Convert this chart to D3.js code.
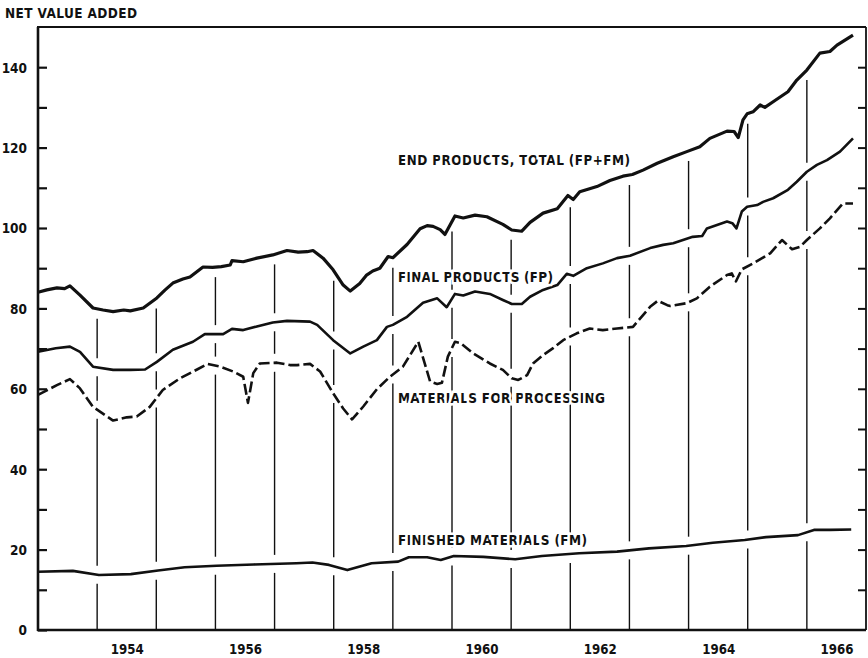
<!DOCTYPE html>
<html><head><meta charset="utf-8">
<script src="https://cdn.jsdelivr.net/npm/d3@7"></script>
<style>
html,body{margin:0;padding:0;background:#fff;}
svg{display:block;}
text{font-family:"DejaVu Sans Condensed","Liberation Sans Narrow","Roboto Condensed",sans-serif;font-weight:bold;fill:#111;}
</style></head><body><svg id="c" width="868" height="658"></svg>
<script>
// ---- DATA ----
const epYears=[1953.00,1953.15,1953.32,1953.45,1953.54,1953.71,1953.93,1954.10,1954.27,1954.45,1954.56,1954.78,1955.01,1955.15,1955.28,1955.45,1955.57,1955.79,1955.95,1956.10,1956.25,1956.28,1956.47,1956.70,1956.97,1957.21,1957.40,1957.55,1957.65,1957.82,1957.99,1958.16,1958.28,1958.44,1958.55,1958.66,1958.78,1958.92,1959.00,1959.24,1959.46,1959.58,1959.68,1959.80,1959.88,1960.05,1960.19,1960.39,1960.59,1960.86,1961.01,1961.18,1961.32,1961.54,1961.78,1961.96,1962.05,1962.16,1962.45,1962.67,1962.89,1963.05,1963.23,1963.47,1963.74,1963.97,1964.19,1964.36,1964.65,1964.77,1964.84,1964.92,1964.99,1965.09,1965.21,1965.29,1965.43,1965.68,1965.83,1966.00,1966.22,1966.39,1966.51,1966.78];
const epValues=[84.0,84.6,85.1,84.9,85.6,83.3,80.1,79.6,79.2,79.6,79.4,80.1,82.6,84.6,86.3,87.3,87.8,90.3,90.2,90.4,90.8,91.9,91.6,92.5,93.3,94.4,94.0,94.1,94.4,92.5,89.6,85.8,84.3,86.2,88.2,89.3,90.0,92.9,92.6,95.9,99.8,100.6,100.4,99.6,98.4,103.0,102.5,103.2,102.8,100.9,99.5,99.2,101.4,103.7,104.8,108.1,107.1,109.0,110.3,111.8,112.9,113.3,114.4,116.1,117.7,119.0,120.2,122.3,124.1,124.0,122.5,126.9,128.4,128.9,130.6,130.0,131.4,133.9,136.8,139.3,143.5,143.9,145.5,148.0];

const fpYears=[1953.00,1953.30,1953.54,1953.71,1953.93,1954.27,1954.56,1954.81,1955.01,1955.28,1955.62,1955.82,1956.13,1956.28,1956.47,1956.70,1956.97,1957.21,1957.60,1957.72,1957.99,1958.28,1958.50,1958.73,1958.90,1959.00,1959.24,1959.51,1959.75,1959.91,1960.05,1960.19,1960.39,1960.64,1960.86,1961.01,1961.18,1961.32,1961.54,1961.78,1961.94,1962.05,1962.28,1962.55,1962.79,1963.01,1963.35,1963.57,1963.74,1964.07,1964.23,1964.31,1964.65,1964.74,1964.81,1964.90,1964.99,1965.16,1965.26,1965.43,1965.68,1965.83,1966.00,1966.17,1966.34,1966.56,1966.78];
const fpValues=[69.2,70.1,70.5,69.2,65.5,64.7,64.7,64.8,66.7,69.7,71.7,73.6,73.6,74.9,74.6,75.5,76.5,76.9,76.7,75.9,72.1,68.8,70.5,72.1,75.4,75.9,77.9,81.4,82.5,80.3,83.6,83.2,84.2,83.6,82.1,81.1,81.1,82.9,84.6,85.8,88.6,88.1,90.0,91.2,92.5,93.1,95.0,95.8,96.2,97.8,98.0,99.9,101.6,101.2,99.9,104.1,105.3,105.7,106.5,107.4,109.5,111.5,114.0,115.7,116.9,119.0,122.3];

const mpYears=[1953.00,1953.32,1953.54,1953.71,1953.93,1954.27,1954.50,1954.67,1954.89,1955.11,1955.40,1955.69,1955.87,1956.08,1956.30,1956.47,1956.55,1956.64,1956.75,1957.04,1957.26,1957.38,1957.60,1957.77,1957.99,1958.16,1958.31,1958.50,1958.73,1958.95,1959.17,1959.43,1959.63,1959.75,1959.83,1959.93,1960.05,1960.14,1960.36,1960.64,1960.86,1961.01,1961.12,1961.27,1961.37,1961.54,1961.71,1961.88,1962.11,1962.33,1962.55,1962.79,1963.06,1963.35,1963.48,1963.64,1963.69,1963.97,1964.14,1964.36,1964.65,1964.73,1964.80,1964.90,1965.09,1965.38,1965.58,1965.75,1965.88,1966.00,1966.22,1966.39,1966.61,1966.78];
const mpValues=[58.5,60.9,62.4,60.1,55.5,52.1,52.9,53.1,55.5,59.7,62.6,64.8,66.2,65.5,64.3,63.0,56.5,63.9,66.3,66.5,65.9,65.9,66.2,64.3,58.9,55.1,52.4,55.6,59.9,63.0,65.5,71.7,61.8,61.2,61.5,68.0,71.7,71.4,68.8,66.3,64.7,62.6,62.2,63.4,66.3,68.4,70.1,72.1,73.8,75.0,74.6,75.0,75.4,80.4,81.9,80.8,80.6,81.3,82.5,85.4,88.3,88.7,86.7,89.7,91.2,93.7,97.0,94.7,95.3,97.0,99.9,102.4,106.1,106.1];

const fmYears=[1953.00,1953.59,1954.03,1954.57,1955.03,1955.48,1956.02,1956.65,1957.37,1957.64,1957.92,1958.23,1958.64,1959.09,1959.27,1959.58,1959.81,1960.03,1960.53,1961.07,1961.52,1962.15,1962.79,1963.33,1963.96,1964.41,1964.95,1965.31,1965.85,1966.12,1966.39,1966.75];
const fmValues=[14.5,14.7,13.7,13.9,14.8,15.6,16.0,16.3,16.6,16.8,16.2,14.9,16.6,17.0,18.1,18.1,17.4,18.4,18.2,17.6,18.4,19.1,19.5,20.3,20.9,21.7,22.4,23.1,23.6,24.9,24.9,25.0];

const yearLabels=[1954,1956,1958,1960,1962,1964,1966];
const dropYears=[1954,1955,1956,1957,1958,1959,1960,1961,1962,1963,1964,1965,1966];
const yTickValues=[0,10,20,30,40,50,60,70,80,90,100,110,120,130,140];
const yLabelValues=[0,20,40,60,80,100,120,140];

// ---- CHART ----
const svg=d3.select("#c");
const L=38,R=866,T=27,B=630;
const x=d3.scaleLinear().domain([1953,1967]).range([L,R]);
const y=d3.scaleLinear().domain([0,150]).range([B,T]);
const ink="#111";

function interp(xs,vs,t){
  const i=d3.bisectLeft(xs,t);
  if(i<=0) return vs[0];
  if(i>=xs.length) return vs[vs.length-1];
  const t0=xs[i-1],t1=xs[i];
  return vs[i-1]+(vs[i]-vs[i-1])*(t-t0)/(t1-t0);
}

// drop lines
const dropG=svg.append("g");
dropYears.forEach(yr=>{
  const px=x(yr);
  const top=y(interp(epYears,epValues,yr))+10;
  const cuts=[[fpYears,fpValues],[mpYears,mpValues],[fmYears,fmValues]].map(([a,b])=>y(interp(a,b,yr))).sort((a,b)=>a-b);
  let start=top;
  cuts.forEach(c=>{
    const e=c-9;
    if(e>start) dropG.append("line").attr("x1",px).attr("x2",px).attr("y1",start).attr("y2",e).attr("stroke",ink).attr("stroke-width",1.4);
    start=Math.max(start,c+9);
  });
  dropG.append("line").attr("x1",px).attr("x2",px).attr("y1",start).attr("y2",B).attr("stroke",ink).attr("stroke-width",1.4);
});

// series
const line=d3.line().x(d=>x(d[0])).y(d=>y(d[1])).curve(d3.curveLinear);
function drawSeries(xs,vs,w,dash){
  const p=svg.append("path").datum(d3.zip(xs,vs)).attr("d",line)
    .attr("fill","none").attr("stroke",ink).attr("stroke-width",w)
    .attr("stroke-linejoin","round").attr("stroke-linecap","butt");
  if(dash) p.attr("stroke-dasharray",dash);
}
drawSeries(epYears,epValues,3.2);
drawSeries(fpYears,fpValues,2.6);
drawSeries(mpYears,mpValues,2.6,"11,4");
drawSeries(fmYears,fmValues,2.6);

// axes
const yAxisL=d3.axisLeft(y).tickValues(yTickValues).tickSize(-9).tickPadding(11)
  .tickFormat(d=>yLabelValues.includes(d)?d:"");
const gL=svg.append("g").attr("transform",`translate(${L},0)`).call(yAxisL);
gL.select(".domain").remove();
gL.selectAll("line").attr("stroke",ink).attr("stroke-width",2.2);
gL.selectAll("text").attr("font-size","13.5px").attr("fill",ink).attr("dy","0.36em")
  .style("font-family",'"DejaVu Sans Condensed","Liberation Sans Narrow",sans-serif').style("font-weight","bold");

const yAxisR=d3.axisRight(y).tickValues(yTickValues.filter(v=>v>0)).tickSize(-8).tickFormat("");
const gR=svg.append("g").attr("transform",`translate(${R},0)`).call(yAxisR);
gR.select(".domain").remove();
gR.selectAll("line").attr("stroke",ink).attr("stroke-width",2);

const xAxis=d3.axisBottom(x).tickValues(yearLabels.map(v=>v+0.5)).tickSize(0).tickFormat(d=>String(Math.floor(d)));
const gB=svg.append("g").attr("transform",`translate(0,${B})`).call(xAxis);
gB.select(".domain").remove();
gB.selectAll("text").attr("dy",null).attr("y",24).attr("font-size","13.5px").attr("fill",ink)
  .attr("textLength",33).attr("lengthAdjust","spacingAndGlyphs")
  .style("font-family",'"DejaVu Sans Condensed","Liberation Sans Narrow",sans-serif').style("font-weight","bold");

// frame
svg.append("line").attr("x1",L).attr("x2",L).attr("y1",T).attr("y2",B+1).attr("stroke",ink).attr("stroke-width",2.6);
svg.append("line").attr("x1",L-1).attr("x2",R).attr("y1",B).attr("y2",B).attr("stroke",ink).attr("stroke-width",2.6);
svg.append("line").attr("x1",L-1).attr("x2",R).attr("y1",T).attr("y2",T).attr("stroke",ink).attr("stroke-width",2);
svg.append("line").attr("x1",R).attr("x2",R).attr("y1",T).attr("y2",B).attr("stroke",ink).attr("stroke-width",1.8);

// texts
function label(txt,px,py,len){
  svg.append("text").attr("x",px).attr("y",py).attr("font-size","13.5px")
    .attr("textLength",len).attr("lengthAdjust","spacing")
    .attr("stroke","#fff").attr("stroke-width",5).attr("paint-order","stroke")
    .text(txt);
}
svg.append("text").attr("x",5).attr("y",18).attr("font-size","13.5px")
  .attr("textLength",132).attr("lengthAdjust","spacing").text("NET VALUE ADDED");
label("END PRODUCTS, TOTAL (FP+FM)",398,165,232);
label("FINAL PRODUCTS (FP)",398,282,155);
label("MATERIALS FOR PROCESSING",398,403,207);
label("FINISHED MATERIALS (FM)",398,545,189);
</script></body></html>
